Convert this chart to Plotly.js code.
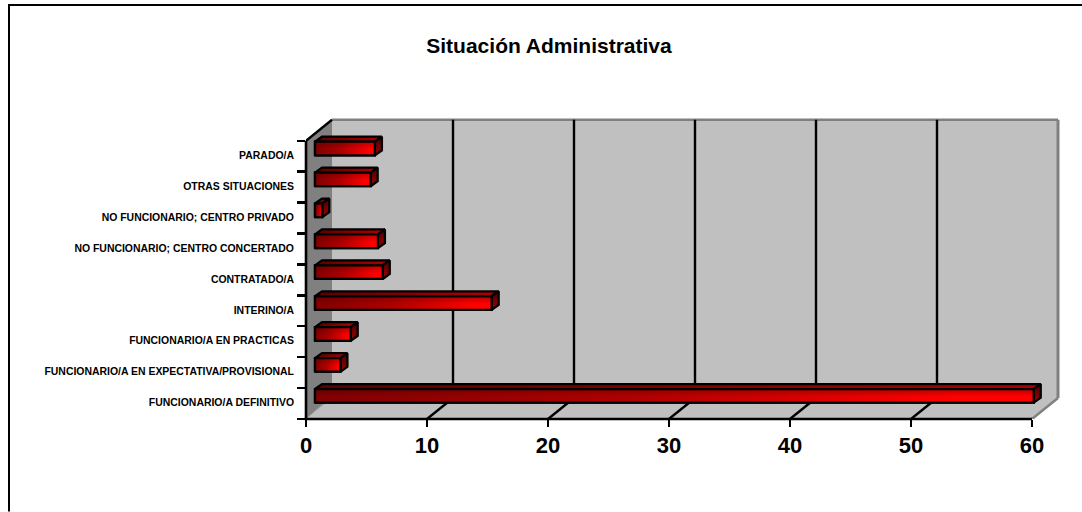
<!DOCTYPE html>
<html>
<head>
<meta charset="utf-8">
<script src="https://cdn.plot.ly/plotly-3.0.1.min.js"></script>
<style>html,body{margin:0;padding:0;background:#fff;overflow:hidden}#chart{width:1082px;height:512px}</style>
</head>
<body>
<div id="chart"></div>
<script>
var categories = ["FUNCIONARIO/A DEFINITIVO","FUNCIONARIO/A EN EXPECTATIVA/PROVISIONAL","FUNCIONARIO/A EN PRACTICAS","INTERINO/A","CONTRATADO/A","NO FUNCIONARIO; CENTRO CONCERTADO","NO FUNCIONARIO; CENTRO PRIVADO","OTRAS SITUACIONES","PARADO/A"];
var values = [59.4, 2.1, 2.95, 14.6, 5.6, 5.2, 0.6, 4.6, 4.95];
var xTicks = [0, 10, 20, 30, 40, 50, 60];

var W = 1082, H = 512;
var L = 306, R = 1064, T = 114, B = 419.3;
var xMax = 60, band = 30.95, pxX = 12.1;
var n = categories.length;
var dX = 26 / pxX, dY = 21 / band;        // wall depth
var bX = 9 / pxX, bY = 7.7 / band;        // bar front offset
var tX = 7 / pxX, tY = 5 / band;          // bar depth
var bH = 13.6 / band;                     // bar thickness
var px = function (p) { return (p - L) / (R - L); };
var py = function (p) { return (B - p) / (B - T); };

var shapes = [];
function poly(pts) {
  return 'M' + pts.map(function (p) { return p[0] + ',' + p[1]; }).join('L') + 'Z';
}
function addPoly(pts, fill, lc, lw) {
  shapes.push({type: 'path', xref: 'x', yref: 'y', layer: 'below', path: poly(pts), fillcolor: fill, line: {color: lc || fill, width: lw === undefined ? 0 : lw}});
}
function addLine(x0, y0, x1, y1, c, w) {
  shapes.push({type: 'line', xref: 'x', yref: 'y', layer: 'below', x0: x0, y0: y0, x1: x1, y1: y1, line: {color: c, width: w}});
}
addPoly([[dX, dY], [xMax + dX, dY], [xMax + dX, n + dY], [dX, n + dY]], '#c0c0c0');
addPoly([[0, 0], [dX, dY], [xMax + dX, dY], [xMax, 0]], '#c0c0c0');
addPoly([[0, 0], [dX, dY], [dX, n + dY], [0, n]], '#808080');
addLine(dX, n + dY, xMax + dX, n + dY, '#808080', 2.5);
addLine(xMax + dX, n + dY, xMax + dX, dY, '#808080', 3);
addLine(xMax + dX, dY, xMax, 0, '#808080', 2.5);
addLine(dX - 0.03, dY + 0.05, 0, 0, '#a8a8a8', 1);
xTicks.slice(1, -1).forEach(function (t) {
  addLine(t + dX, n + dY, t + dX, dY, '#000', 2.4);
  addLine(t, 0, t + dX, dY, '#000', 2.4);
});
addLine(0, n, dX, n + dY, '#000', 2.4);

var traces = [];
// front faces, as real bars
traces.push({
  type: 'bar', orientation: 'h',
  x: values,
  y: categories.map(function (c, i) { return i + 0.5 + bY; }),
  base: categories.map(function () { return bX; }),
  width: bH,
  marker: {color: '#c00000', line: {color: '#000', width: 2.3}},
  hoverinfo: 'skip', showlegend: false
});

function face(xs, ys, fg, line) {
  var t = {type: 'scatter', mode: 'lines', x: xs.concat(xs[0]), y: ys.concat(ys[0]), fill: 'toself',
    line: line === false ? {width: 0, color: 'rgba(0,0,0,0)'} : {color: '#000', width: 2.3},
    hoverinfo: 'skip', showlegend: false, cliponaxis: false};
  if (typeof fg === 'string') { t.fillcolor = fg; } else { t.fillgradient = fg; }
  traces.push(t);
}
values.forEach(function (v, i) {
  var x0 = bX, x1 = bX + v;
  var yc = i + 0.5 + bY, y0 = yc - bH / 2, y1 = yc + bH / 2;
  // top
  face([x0, x1, x1 + tX, x0 + tX], [y1, y1, y1 + tY, y1 + tY],
       {type: 'horizontal', colorscale: [[0, '#5a0000'], [1, '#b00000']]});
  // side
  face([x1, x1 + tX, x1 + tX, x1], [y0, y0 + tY, y1 + tY, y1],
       {type: 'vertical', colorscale: [[0, '#a00000'], [1, '#4a0000']]});
  // front gradient
  face([x0, x1, x1, x0], [y0, y0, y1, y1],
       {type: 'horizontal', colorscale: [[0, '#800000'], [0.45, '#b00000'], [0.9, '#ff0000'], [1, '#ff0000']]}, false);
  // vertical shading
  face([x0, x1, x1, x0], [y0, y0, y1, y1],
       {type: 'vertical', colorscale: [[0, 'rgba(70,0,0,0)'], [0.45, 'rgba(70,0,0,0)'], [1, 'rgba(70,0,0,0.35)']]});
});

// axis lines (paper coordinates, so they are not clipped at the plot edge)
shapes.push({type: 'line', xref: 'paper', yref: 'paper', layer: 'above', x0: 0, x1: 0, y0: 0, y1: n * band / (B - T), line: {color: '#000', width: 2.6}});
shapes.push({type: 'line', xref: 'paper', yref: 'paper', layer: 'above', x0: -1.3 / (R - L), x1: xMax * pxX / (R - L), y0: 0, y1: 0, line: {color: '#000', width: 2.6}});

// outer frame
shapes.push({type: 'line', xref: 'paper', yref: 'paper', x0: px(8), x1: px(W), y0: py(5), y1: py(5), line: {color: '#000', width: 2}});
shapes.push({type: 'line', xref: 'paper', yref: 'paper', x0: px(9), x1: px(9), y0: py(4), y1: py(H), line: {color: '#000', width: 2}});

var layout = {
  width: W, height: H, autosize: false,
  margin: {l: L, r: W - R, t: T, b: H - B, pad: 0},
  paper_bgcolor: '#fff', plot_bgcolor: 'rgba(0,0,0,0)',
  showlegend: false, hovermode: false, barmode: 'overlay',
  title: {text: '<b>Situación Administrativa</b>', x: 549 / W, xanchor: 'center', y: 1 - 46 / H, yanchor: 'middle',
    font: {family: 'Liberation Sans, Arial, sans-serif', size: 21, color: '#000'}},
  xaxis: {
    range: [0, (R - L) / pxX], showgrid: false, zeroline: false, showline: false,
    tickmode: 'array', tickvals: xTicks, ticktext: xTicks.map(String),
    ticks: 'outside', ticklen: 7, tickwidth: 2.4, tickcolor: '#000',
    tickfont: {family: 'Liberation Sans, Arial, sans-serif', size: 22, color: '#000', weight: 'bold'}
  },
  yaxis: {
    range: [0, (B - T) / band], showgrid: false, zeroline: false, showline: false,
    tickmode: 'array', tickvals: categories.map(function (c, i) { return i + 0.53; }), ticktext: categories,
    ticks: '', ticklabelstandoff: 11,
    tickfont: {family: 'Liberation Sans, Arial, sans-serif', size: 10.45, color: '#000', weight: 'bold'},
    minor: {tickmode: 'array', tickvals: categories.map(function (c, i) { return i; }).concat(n), ticks: 'outside', ticklen: 8, tickwidth: 2.4, tickcolor: '#000', showgrid: false}
  },
  shapes: shapes
};
Plotly.newPlot('chart', traces, layout, {displayModeBar: false, staticPlot: true});
</script>
</body>
</html>
